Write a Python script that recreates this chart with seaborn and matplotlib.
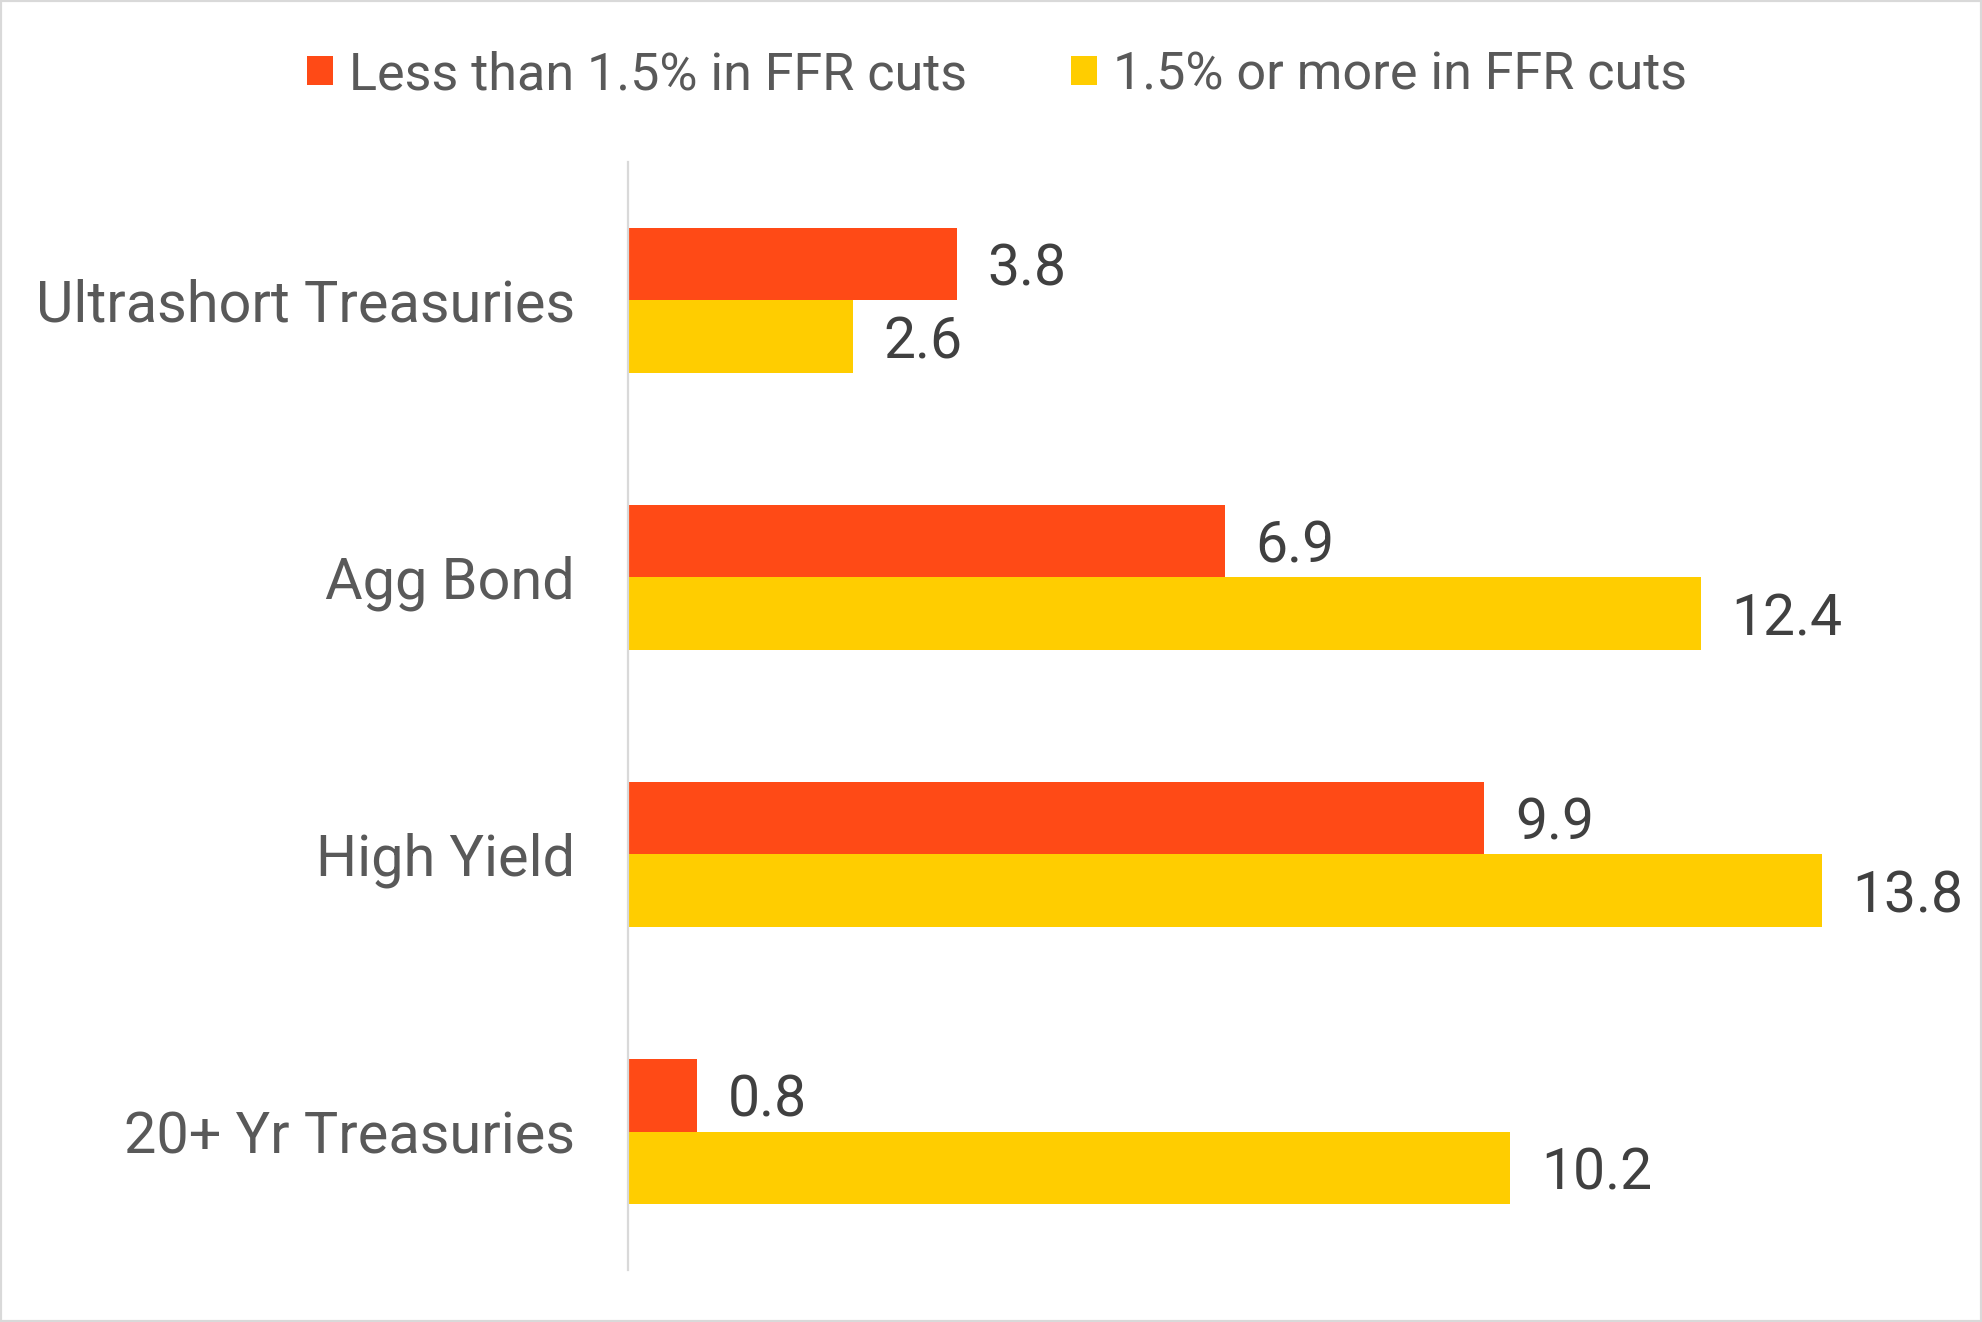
import matplotlib
matplotlib.use("Agg")
import matplotlib.pyplot as plt
from matplotlib.patches import Patch, Rectangle
import seaborn as sns
import pandas as pd

# ---- data ----
categories = ["Ultrashort Treasuries", "Agg Bond", "High Yield", "20+ Yr Treasuries"]
series_names = ["Less than 1.5% in FFR cuts", "1.5% or more in FFR cuts"]
less_than_15 = [3.8, 6.9, 9.9, 0.8]
more_than_15 = [2.6, 12.4, 13.8, 10.2]
colors = ["#FF4A16", "#FFCD00"]

df = pd.DataFrame({
    "category": categories * 2,
    "series": [series_names[0]] * len(categories) + [series_names[1]] * len(categories),
    "value": less_than_15 + more_than_15,
})

sns.set_theme(style="white")
plt.rcParams["font.family"] = ["Roboto", "DejaVu Sans"]

W, H = 1982, 1322
fig = plt.figure(figsize=(W / 100, H / 100), dpi=100)
ax_left, ax_right = 628, 1968
ax_top, ax_bot = 162, 1270
ax = fig.add_axes([ax_left / W, 1 - ax_bot / H, (ax_right - ax_left) / W, (ax_bot - ax_top) / H])

sns.barplot(data=df, y="category", x="value", hue="series", order=categories,
            hue_order=series_names, palette=colors, orient="h", width=0.525,
            gap=0, dodge=True, legend=False, ax=ax, saturation=1)

ax.set_xlim(0, 15.49)
ax.set_ylim(3.5, -0.5)
ax.set_xlabel("")
ax.set_ylabel("")
ax.set_xticks([])
for s in ["top", "right", "bottom"]:
    ax.spines[s].set_visible(False)
ax.spines["left"].set_color("#d9d9d9")
ax.spines["left"].set_linewidth(1.6)
ax.tick_params(axis="y", length=0, pad=38, labelsize=41.5, labelcolor="#595959")

for cont, vals in zip(ax.containers, [less_than_15, more_than_15]):
    for bar in cont:
        bar.set_edgecolor("none")
    texts = ax.bar_label(cont, labels=[f"{v:.1f}" for v in vals], padding=22,
                         fontsize=41, color="#404040")
    for t in texts:
        t.set_verticalalignment("center_baseline")

handles = [Patch(facecolor=c, edgecolor="none") for c in colors]
fig.legend(handles, series_names, loc="center", bbox_to_anchor=(0.503, 1 - 75 / H),
           ncol=2, frameon=False, fontsize=37.5, labelcolor="#595959",
           handlelength=0.5, handleheight=0.5, handletextpad=0.31,
           columnspacing=2.0)

fig.patches.append(Rectangle((0, 0), 1, 1, transform=fig.transFigure, fill=False,
                             edgecolor="#d9d9d9", linewidth=3, clip_on=False))

fig.savefig("out.png", dpi=100, facecolor="white")
